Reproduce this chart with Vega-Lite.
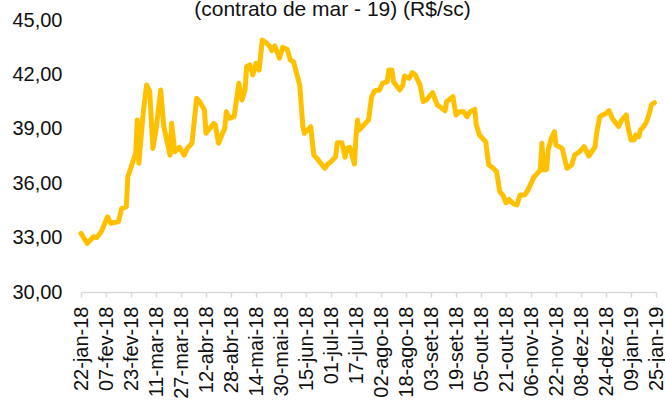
{
  "$schema": "https://vega.github.io/schema/vega-lite/v6.json",
  "autosize": {"type": "none"},
  "width": 575,
  "height": 272,
  "padding": {"left": 81, "top": 20, "right": 9, "bottom": 109},
  "title": {
    "text": "(contrato de mar - 19) (R$/sc)",
    "font": "Liberation Sans",
    "fontSize": 21,
    "fontWeight": "normal",
    "color": "#111111",
    "anchor": "middle",
    "frame": "group",
    "dx": -36,
    "baseline": "alphabetic",
    "offset": -27
  },
  "config": {
    "view": {"stroke": null},
    "locale": {
      "number": {"decimal": ",", "thousands": ".", "grouping": [3], "currency": ["R$", ""]},
      "time": {
        "dateTime": "%A, %e de %B de %Y. %X",
        "date": "%d/%m/%Y",
        "time": "%H:%M:%S",
        "periods": ["AM", "PM"],
        "days": ["Domingo", "Segunda", "Terça", "Quarta", "Quinta", "Sexta", "Sábado"],
        "shortDays": ["Dom", "Seg", "Ter", "Qua", "Qui", "Sex", "Sáb"],
        "months": ["Janeiro", "Fevereiro", "Março", "Abril", "Maio", "Junho", "Julho", "Agosto", "Setembro", "Outubro", "Novembro", "Dezembro"],
        "shortMonths": ["jan", "fev", "mar", "abr", "mai", "jun", "jul", "ago", "set", "out", "nov", "dez"]
      }
    },
    "axis": {
      "labelFont": "Liberation Sans",
      "labelFontSize": 20,
      "labelColor": "#111111",
      "grid": false,
      "title": null
    }
  },
  "data": {
    "values": [
      {"date": "2018-01-22", "price": 33.23},
      {"date": "2018-01-24", "price": 32.96},
      {"date": "2018-01-26", "price": 32.68},
      {"date": "2018-01-30", "price": 33.05},
      {"date": "2018-02-01", "price": 33.0},
      {"date": "2018-02-04", "price": 33.32},
      {"date": "2018-02-08", "price": 34.15},
      {"date": "2018-02-10", "price": 33.79},
      {"date": "2018-02-15", "price": 33.88},
      {"date": "2018-02-17", "price": 34.6},
      {"date": "2018-02-20", "price": 34.7},
      {"date": "2018-02-21", "price": 36.36},
      {"date": "2018-02-26", "price": 37.65},
      {"date": "2018-02-27", "price": 39.48},
      {"date": "2018-02-28", "price": 37.1},
      {"date": "2018-03-03", "price": 40.04},
      {"date": "2018-03-05", "price": 41.41},
      {"date": "2018-03-07", "price": 41.05},
      {"date": "2018-03-09", "price": 37.92},
      {"date": "2018-03-11", "price": 38.93},
      {"date": "2018-03-14", "price": 41.14},
      {"date": "2018-03-16", "price": 39.12},
      {"date": "2018-03-20", "price": 37.55},
      {"date": "2018-03-21", "price": 39.3},
      {"date": "2018-03-23", "price": 37.74},
      {"date": "2018-03-26", "price": 37.98},
      {"date": "2018-03-29", "price": 37.55},
      {"date": "2018-03-31", "price": 37.92},
      {"date": "2018-04-03", "price": 38.2},
      {"date": "2018-04-06", "price": 40.68},
      {"date": "2018-04-08", "price": 40.5},
      {"date": "2018-04-11", "price": 40.04},
      {"date": "2018-04-12", "price": 38.75},
      {"date": "2018-04-17", "price": 39.3},
      {"date": "2018-04-18", "price": 39.2},
      {"date": "2018-04-20", "price": 38.2},
      {"date": "2018-04-23", "price": 38.84},
      {"date": "2018-04-24", "price": 39.0},
      {"date": "2018-04-25", "price": 39.94},
      {"date": "2018-04-27", "price": 39.58},
      {"date": "2018-04-30", "price": 39.67},
      {"date": "2018-05-03", "price": 41.51},
      {"date": "2018-05-05", "price": 40.59},
      {"date": "2018-05-07", "price": 41.14},
      {"date": "2018-05-08", "price": 42.42},
      {"date": "2018-05-10", "price": 42.52},
      {"date": "2018-05-12", "price": 41.97},
      {"date": "2018-05-14", "price": 42.61},
      {"date": "2018-05-16", "price": 42.24},
      {"date": "2018-05-18", "price": 43.9},
      {"date": "2018-05-21", "price": 43.71},
      {"date": "2018-05-23", "price": 43.53},
      {"date": "2018-05-24", "price": 43.31},
      {"date": "2018-05-26", "price": 43.57},
      {"date": "2018-05-29", "price": 42.89},
      {"date": "2018-05-31", "price": 43.49},
      {"date": "2018-06-03", "price": 43.38},
      {"date": "2018-06-05", "price": 42.79},
      {"date": "2018-06-07", "price": 42.7},
      {"date": "2018-06-09", "price": 42.06},
      {"date": "2018-06-11", "price": 41.41},
      {"date": "2018-06-13", "price": 39.12},
      {"date": "2018-06-14", "price": 38.75},
      {"date": "2018-06-18", "price": 39.12},
      {"date": "2018-06-20", "price": 37.55},
      {"date": "2018-06-22", "price": 37.37},
      {"date": "2018-06-27", "price": 36.82},
      {"date": "2018-06-29", "price": 37.06},
      {"date": "2018-07-01", "price": 37.18},
      {"date": "2018-07-04", "price": 37.46},
      {"date": "2018-07-05", "price": 38.23},
      {"date": "2018-07-08", "price": 38.23},
      {"date": "2018-07-10", "price": 37.43},
      {"date": "2018-07-11", "price": 37.92},
      {"date": "2018-07-13", "price": 37.98},
      {"date": "2018-07-16", "price": 37.06},
      {"date": "2018-07-17", "price": 38.56},
      {"date": "2018-07-18", "price": 39.48},
      {"date": "2018-07-19", "price": 38.93},
      {"date": "2018-07-23", "price": 39.3},
      {"date": "2018-07-25", "price": 39.48},
      {"date": "2018-07-27", "price": 40.77},
      {"date": "2018-07-29", "price": 41.1},
      {"date": "2018-08-01", "price": 41.14},
      {"date": "2018-08-03", "price": 41.51},
      {"date": "2018-08-06", "price": 41.6},
      {"date": "2018-08-07", "price": 42.24},
      {"date": "2018-08-09", "price": 42.24},
      {"date": "2018-08-10", "price": 41.6},
      {"date": "2018-08-14", "price": 41.14},
      {"date": "2018-08-16", "price": 41.41},
      {"date": "2018-08-17", "price": 41.91},
      {"date": "2018-08-20", "price": 41.78},
      {"date": "2018-08-22", "price": 42.1},
      {"date": "2018-08-24", "price": 41.97},
      {"date": "2018-08-27", "price": 41.41},
      {"date": "2018-08-29", "price": 40.5},
      {"date": "2018-08-31", "price": 40.59},
      {"date": "2018-09-04", "price": 40.99},
      {"date": "2018-09-07", "price": 40.31},
      {"date": "2018-09-10", "price": 40.13},
      {"date": "2018-09-12", "price": 40.0},
      {"date": "2018-09-13", "price": 40.5},
      {"date": "2018-09-17", "price": 40.77},
      {"date": "2018-09-19", "price": 39.76},
      {"date": "2018-09-21", "price": 39.94},
      {"date": "2018-09-24", "price": 39.94},
      {"date": "2018-09-26", "price": 39.67},
      {"date": "2018-09-28", "price": 39.94},
      {"date": "2018-10-01", "price": 40.07},
      {"date": "2018-10-02", "price": 39.21},
      {"date": "2018-10-04", "price": 38.66},
      {"date": "2018-10-08", "price": 38.29},
      {"date": "2018-10-10", "price": 37.0},
      {"date": "2018-10-13", "price": 36.82},
      {"date": "2018-10-15", "price": 36.63},
      {"date": "2018-10-17", "price": 35.53},
      {"date": "2018-10-19", "price": 35.35},
      {"date": "2018-10-21", "price": 34.92},
      {"date": "2018-10-23", "price": 35.1},
      {"date": "2018-10-26", "price": 34.85},
      {"date": "2018-10-28", "price": 34.8},
      {"date": "2018-10-30", "price": 35.35},
      {"date": "2018-11-02", "price": 35.35},
      {"date": "2018-11-04", "price": 35.62},
      {"date": "2018-11-08", "price": 36.36},
      {"date": "2018-11-10", "price": 36.54},
      {"date": "2018-11-12", "price": 36.73},
      {"date": "2018-11-13", "price": 38.2},
      {"date": "2018-11-14", "price": 36.73},
      {"date": "2018-11-16", "price": 36.76},
      {"date": "2018-11-17", "price": 37.83},
      {"date": "2018-11-19", "price": 38.47},
      {"date": "2018-11-21", "price": 38.84},
      {"date": "2018-11-22", "price": 38.1},
      {"date": "2018-11-26", "price": 37.92},
      {"date": "2018-11-27", "price": 37.55},
      {"date": "2018-11-29", "price": 36.82},
      {"date": "2018-12-02", "price": 37.0},
      {"date": "2018-12-04", "price": 37.55},
      {"date": "2018-12-07", "price": 37.74},
      {"date": "2018-12-10", "price": 38.01},
      {"date": "2018-12-13", "price": 37.5},
      {"date": "2018-12-17", "price": 38.01},
      {"date": "2018-12-18", "price": 38.75},
      {"date": "2018-12-20", "price": 39.67},
      {"date": "2018-12-22", "price": 39.76},
      {"date": "2018-12-24", "price": 39.85},
      {"date": "2018-12-26", "price": 40.0},
      {"date": "2018-12-28", "price": 39.58},
      {"date": "2019-01-01", "price": 39.12},
      {"date": "2019-01-03", "price": 39.48},
      {"date": "2019-01-06", "price": 39.76},
      {"date": "2019-01-07", "price": 39.12},
      {"date": "2019-01-09", "price": 38.38},
      {"date": "2019-01-11", "price": 38.38},
      {"date": "2019-01-12", "price": 38.66},
      {"date": "2019-01-14", "price": 38.56},
      {"date": "2019-01-15", "price": 38.93},
      {"date": "2019-01-17", "price": 39.12},
      {"date": "2019-01-19", "price": 39.39},
      {"date": "2019-01-21", "price": 39.94},
      {"date": "2019-01-22", "price": 40.31},
      {"date": "2019-01-24", "price": 40.44}
    ]
  },
  "mark": {"type": "line", "color": "#FFC000", "strokeWidth": 5, "strokeJoin": "round", "strokeCap": "round"},
  "encoding": {
    "x": {
      "field": "date",
      "type": "temporal",
      "scale": {
        "type": "utc",
        "domain": [
          {"year": 2018, "month": 1, "date": 22, "utc": true},
          {"year": 2019, "month": 1, "date": 25, "utc": true}
        ]
      },
      "axis": {
        "values": [
          {"year": 2018, "month": 1, "date": 22, "utc": true},
          {"year": 2018, "month": 2, "date": 7, "utc": true},
          {"year": 2018, "month": 2, "date": 23, "utc": true},
          {"year": 2018, "month": 3, "date": 11, "utc": true},
          {"year": 2018, "month": 3, "date": 27, "utc": true},
          {"year": 2018, "month": 4, "date": 12, "utc": true},
          {"year": 2018, "month": 4, "date": 28, "utc": true},
          {"year": 2018, "month": 5, "date": 14, "utc": true},
          {"year": 2018, "month": 5, "date": 30, "utc": true},
          {"year": 2018, "month": 6, "date": 15, "utc": true},
          {"year": 2018, "month": 7, "date": 1, "utc": true},
          {"year": 2018, "month": 7, "date": 17, "utc": true},
          {"year": 2018, "month": 8, "date": 2, "utc": true},
          {"year": 2018, "month": 8, "date": 18, "utc": true},
          {"year": 2018, "month": 9, "date": 3, "utc": true},
          {"year": 2018, "month": 9, "date": 19, "utc": true},
          {"year": 2018, "month": 10, "date": 5, "utc": true},
          {"year": 2018, "month": 10, "date": 21, "utc": true},
          {"year": 2018, "month": 11, "date": 6, "utc": true},
          {"year": 2018, "month": 11, "date": 22, "utc": true},
          {"year": 2018, "month": 12, "date": 8, "utc": true},
          {"year": 2018, "month": 12, "date": 24, "utc": true},
          {"year": 2019, "month": 1, "date": 9, "utc": true},
          {"year": 2019, "month": 1, "date": 25, "utc": true}
        ],
        "format": "%d-%b-%y",
        "labelAngle": -90,
        "labelAlign": "right",
        "labelBaseline": "middle",
        "labelPadding": 9,
        "labelOverlap": false,
        "labelFlush": false,
        "domainColor": "#d9d9d9",
        "domainWidth": 1.5,
        "tickColor": "#d9d9d9",
        "tickWidth": 1.5,
        "tickSize": 5
      }
    },
    "y": {
      "field": "price",
      "type": "quantitative",
      "scale": {"domain": [30, 45], "nice": false, "zero": false},
      "axis": {
        "values": [30, 33, 36, 39, 42, 45],
        "format": ".2f",
        "domain": false,
        "ticks": false,
        "tickSize": 0,
        "labelPadding": 19
      }
    }
  }
}
